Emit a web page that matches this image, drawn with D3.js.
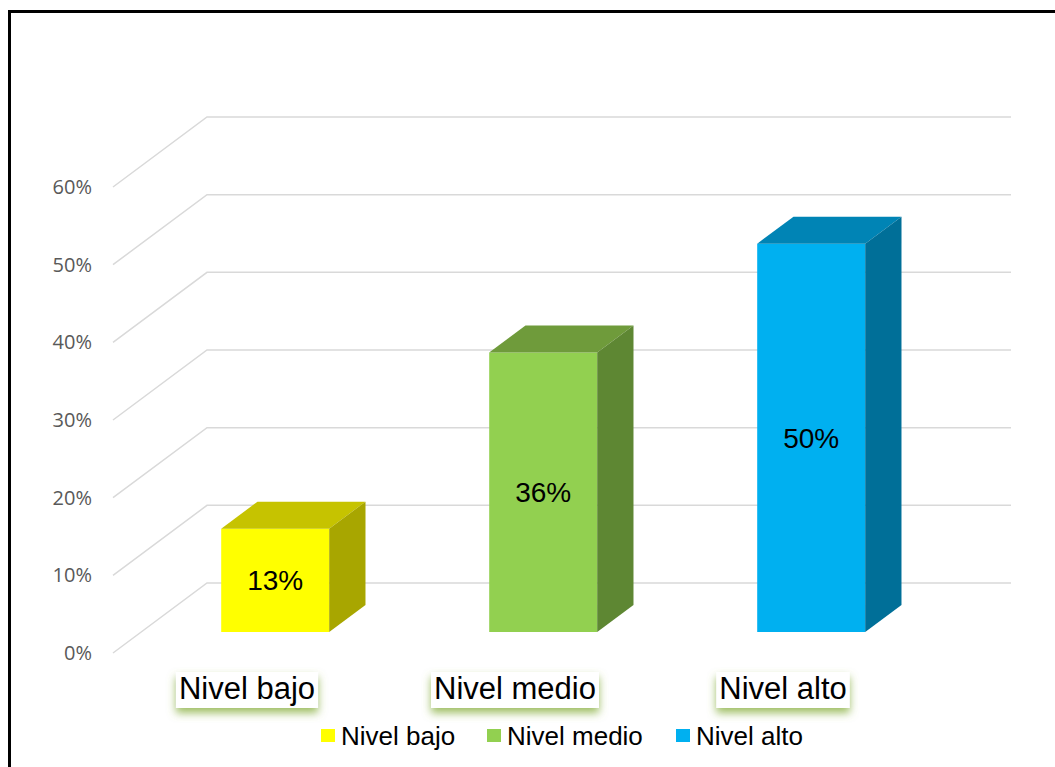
<!DOCTYPE html>
<html>
<head>
<meta charset="utf-8">
<script src="https://cdn.jsdelivr.net/npm/d3@7"></script>
<style>
  html, body { margin: 0; padding: 0; background: #fff; }
  svg { display: block; }
</style>
</head>
<body>
<svg id="chart" width="1055" height="767"></svg>
<script>
// ---- data ----
const categories = ["Nivel bajo", "Nivel medio", "Nivel alto"];
const values = [0.133, 0.36, 0.50];
const valueLabels = ["13%", "36%", "50%"];
const yTicks = [0, 0.1, 0.2, 0.3, 0.4, 0.5, 0.6];
const frontColors = ["#FFFF00", "#92D050", "#00B0F0"];
const topColors = ["#C6C300", "#6F9B3B", "#0084B5"];
const sideColors = ["#A8A600", "#5E8733", "#006F98"];

// ---- layout ----
const svg = d3.select("#chart");
const DX = 94, DY = -70;        // depth offset of the back wall
const z0 = 0.3, z1 = 0.686;     // bar depth range

const x = d3.scaleBand().domain(categories).range([113, 917]).padding(0);
const y = d3.scaleLinear().domain([0, 0.6]).range([653, 187]);
const barW = x.bandwidth() * 0.403;

const proj = (px, v, z) => [px + z * DX, y(v) + z * DY];

// defs: glow for category labels
const defs = svg.append("defs");
const f = defs.append("filter").attr("id", "glow")
  .attr("x", "-20%").attr("y", "-30%").attr("width", "140%").attr("height", "180%");
f.append("feDropShadow").attr("dx", 0).attr("dy", 5).attr("stdDeviation", 4)
  .attr("flood-color", "#8DB24A").attr("flood-opacity", 0.85);

// border (frame extends past right/bottom edge)
svg.append("rect").attr("x", 9.5).attr("y", 11.5).attr("width", 1200).attr("height", 900)
  .attr("fill", "none").attr("stroke", "#000").attr("stroke-width", 3);

// gridlines
const grid = svg.append("g").attr("stroke", "#D9D9D9").attr("stroke-width", 1.5).attr("fill", "none");
yTicks.forEach(v => {
  const a = proj(113, v, 0), b = proj(113, v, 1), c = proj(917, v, 1);
  grid.append("path").attr("d", d3.line()([a, b, c]));
});

// y tick labels
svg.append("g").selectAll("text").data(yTicks).join("text")
  .attr("x", 92).attr("y", d => y(d)).attr("dy", "0.35em")
  .attr("text-anchor", "end")
  .attr("font-family", "'Open Sans', sans-serif").attr("font-size", 20)
  .attr("fill", "#595959")
  .text(d3.format(".0%"));

// bars
const bars = svg.append("g");
categories.forEach((c, i) => {
  const cx = x(c) + x.bandwidth() / 2;
  const xl = cx - barW / 2, xr = cx + barW / 2, v = values[i];
  const g = bars.append("g");
  g.append("path").attr("fill", frontColors[i])
    .attr("d", d3.line()([proj(xl, 0, z0), proj(xr, 0, z0), proj(xr, v, z0), proj(xl, v, z0)]) + "Z");
  g.append("path").attr("fill", topColors[i])
    .attr("d", d3.line()([proj(xl, v, z0), proj(xr, v, z0), proj(xr, v, z1), proj(xl, v, z1)]) + "Z");
  g.append("path").attr("fill", sideColors[i])
    .attr("d", d3.line()([proj(xr, 0, z0), proj(xr, v, z0), proj(xr, v, z1), proj(xr, 0, z1)]) + "Z");
  const mid = proj(cx, v / 2, z0);
  g.append("text").attr("x", mid[0]).attr("y", mid[1]).attr("dy", "0.35em")
    .attr("text-anchor", "middle")
    .attr("font-family", "'Liberation Sans', Arial, sans-serif").attr("font-size", 28)
    .attr("fill", "#000").text(valueLabels[i]);
});

// category labels with green glow box
const catG = svg.append("g");
categories.forEach(c => {
  const cx = x(c) + x.bandwidth() / 2;
  const g = catG.append("g");
  const r = g.append("rect").attr("fill", "#fff").attr("filter", "url(#glow)");
  const t = g.append("text").attr("x", cx).attr("y", 699).attr("text-anchor", "middle")
    .attr("font-family", "'Liberation Sans', Arial, sans-serif").attr("font-size", 31)
    .attr("fill", "#000").text(c);
  const bb = t.node().getBBox();
  r.attr("x", bb.x - 3).attr("y", 672).attr("width", bb.width + 6).attr("height", 36);
});

// legend
const legendX = [321, 487, 676];
const leg = svg.append("g");
categories.forEach((c, i) => {
  leg.append("rect").attr("x", legendX[i]).attr("y", 729).attr("width", 14).attr("height", 13)
    .attr("fill", frontColors[i]);
  leg.append("text").attr("x", legendX[i] + 20).attr("y", 745)
    .attr("font-family", "'Liberation Sans', Arial, sans-serif").attr("font-size", 26)
    .attr("fill", "#000").text(c);
});
</script>
</body>
</html>
